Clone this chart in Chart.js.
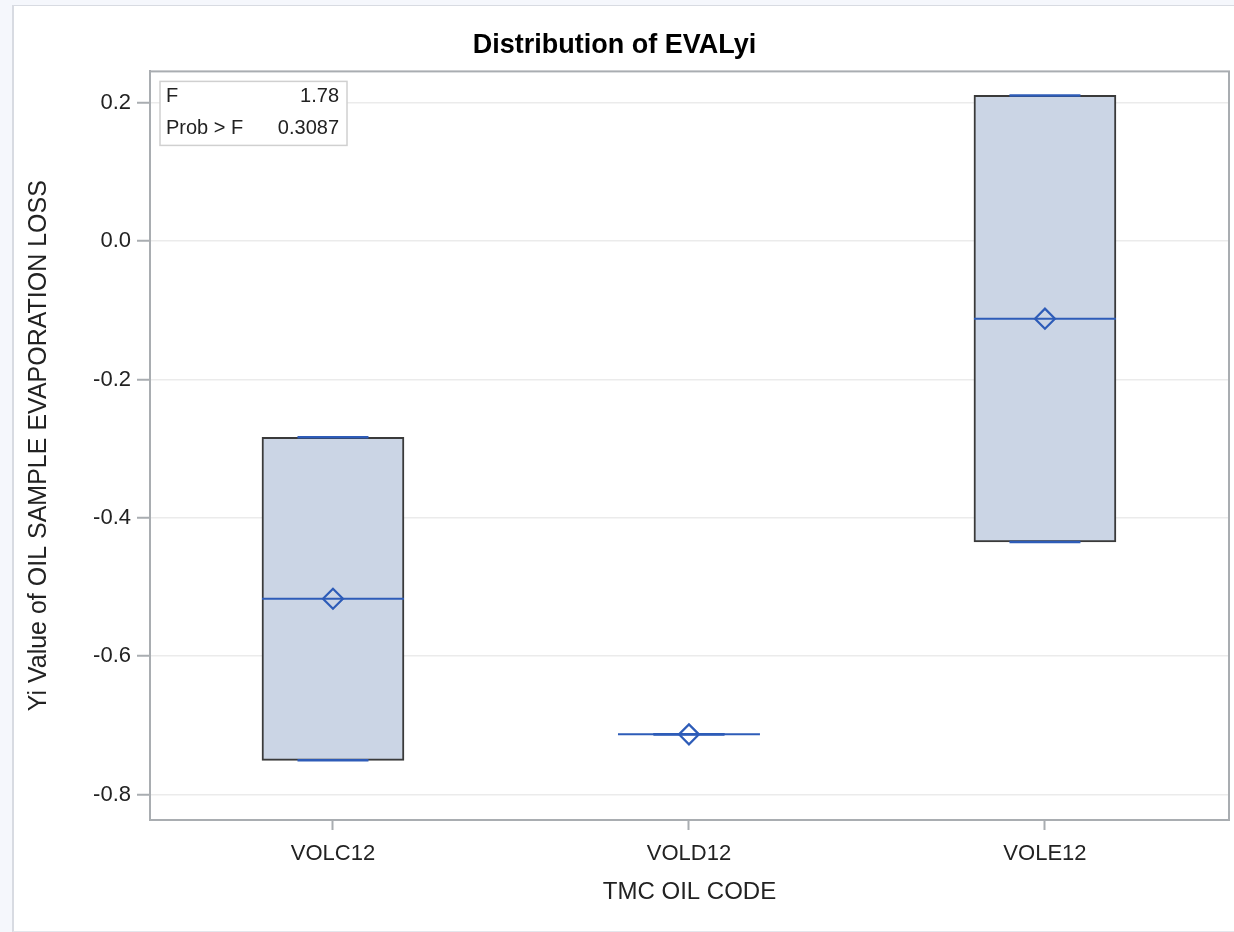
<!DOCTYPE html>
<html>
<head>
<meta charset="utf-8">
<script src="https://cdn.jsdelivr.net/npm/chart.js@4/dist/chart.umd.min.js"></script>
<style>
  html, body { margin: 0; padding: 0; background: #f5f7fc; overflow: hidden; }
  #panel {
    position: absolute; left: 12px; top: 5px; width: 1230px; height: 925px;
    background: #fff; border-left: 2px solid #d8dbe2; border-top: 1px solid #d8dbe2;
    border-bottom: 1px solid #e4e6ec;
  }
  #chartBox { position: absolute; left: 0; top: 0; width: 1234px; height: 932px; }
</style>
</head>
<body>
<div id="panel"></div>
<div id="chartBox"><canvas id="boxChart" width="1234" height="932"></canvas></div>
<script>
// data
const categories = ["VOLC12", "VOLD12", "VOLE12"];
const q1Values = [-0.7505, -0.713, -0.4347];
const q3Values = [-0.2835, -0.713, 0.2108];
const medianValues = [-0.517, -0.713, -0.112];
const meanValues = [-0.517, -0.713, -0.112];
const minValues = [-0.7505, -0.713, -0.4347];
const maxValues = [-0.2835, -0.713, 0.2108];
const yTicks = [-0.8, -0.6, -0.4, -0.2, 0.0, 0.2];
const statLabels = ["F", "Prob > F"];
const statValues = ["1.78", "0.3087"];

const BLUE = "#2e5cb8";
const FONT = "'Liberation Sans', Arial, sans-serif";

// category positions on a linear x scale (1, 2, 3)
const xPos = categories.map((c, i) => i + 1);
const boxHalf = 0.1994;
const capHalf = 0.0997;

function segment(x, half, y) {
  return [{ x: x - half, y: y }, { x: x + half, y: y }];
}

const datasets = [];

// mean diamonds (on top)
datasets.push({
  type: "scatter",
  data: xPos.map((x, i) => ({ x: x, y: meanValues[i] })),
  pointStyle: "rectRot",
  pointRadius: 10,
  pointBorderWidth: 2.2,
  pointBorderColor: BLUE,
  pointBackgroundColor: "rgba(0,0,0,0)",
  order: 0
});

// medians and min/max caps
xPos.forEach((x, i) => {
  datasets.push({
    type: "scatter", showLine: true, data: segment(x, boxHalf, medianValues[i]),
    borderColor: BLUE, borderWidth: 2, pointRadius: 0, order: 1
  });
  datasets.push({
    type: "scatter", showLine: true, data: segment(x, capHalf, minValues[i]),
    borderColor: BLUE, borderWidth: 2.5, pointRadius: 0, order: 1
  });
  datasets.push({
    type: "scatter", showLine: true, data: segment(x, capHalf, maxValues[i]),
    borderColor: BLUE, borderWidth: 2.5, pointRadius: 0, order: 1
  });
});

// boxes as floating bars
datasets.push({
  type: "bar",
  data: xPos.map((x, i) => ({ x: x, y: [q1Values[i], q3Values[i]] })),
  backgroundColor: "#cbd5e5",
  borderColor: "#3a3a3a",
  borderWidth: 2,
  borderSkipped: false,
  barThickness: 142,
  order: 2
});

// plot frame + F statistic inset
const framePlugin = {
  id: "framePlugin",
  afterDraw(chart) {
    const { ctx, chartArea: a } = chart;
    ctx.save();
    ctx.strokeStyle = "#a9adb1";
    ctx.lineWidth = 2;
    ctx.strokeRect(a.left, a.top, a.right - a.left, a.bottom - a.top);

    const bx = a.left + 10, by = a.top + 10, bw = 187, bh = 64;
    ctx.fillStyle = "#fff";
    ctx.fillRect(bx, by, bw, bh);
    ctx.strokeStyle = "#d0d0d0";
    ctx.lineWidth = 1.5;
    ctx.strokeRect(bx, by, bw, bh);
    ctx.fillStyle = "#222";
    ctx.font = "20px " + FONT;
    ctx.textBaseline = "middle";
    statLabels.forEach((lab, i) => {
      const ty = by + 15 + i * 32;
      ctx.textAlign = "left";
      ctx.fillText(lab, bx + 6, ty);
      ctx.textAlign = "right";
      ctx.fillText(statValues[i], bx + bw - 8, ty);
    });
    ctx.restore();
  }
};

new Chart(document.getElementById("boxChart"), {
  data: { datasets: datasets },
  plugins: [framePlugin],
  options: {
    responsive: false,
    animation: false,
    layout: { autoPadding: false, padding: { left: 0, right: 5, top: 0, bottom: 0 } },
    plugins: {
      legend: { display: false },
      tooltip: { enabled: false },
      title: {
        display: true,
        text: "Distribution of EVALyi",
        color: "#000",
        font: { family: FONT, size: 27, weight: "bold" },
        padding: { top: 29, bottom: 10 }
      }
    },
    scales: {
      x: {
        type: "linear",
        offset: false,
        min: 0.486,
        max: 3.517,
        afterBuildTicks: (s) => { s.ticks = xPos.map((v) => ({ value: v })); },
        afterFit: (s) => { s.height = 112; s.paddingLeft = 0; s.paddingRight = 0; },
        ticks: {
          callback: (v) => categories[v - 1],
          color: "#222",
          font: { family: FONT, size: 22 },
          padding: 11,
          maxRotation: 0
        },
        grid: { offset: false, drawOnChartArea: false, tickLength: 10, tickColor: "#a9adb1", tickWidth: 2 },
        border: { color: "#a9adb1", width: 2 },
        title: {
          display: true,
          text: "TMC OIL CODE",
          color: "#222",
          font: { family: FONT, size: 24 },
          padding: { top: 0, bottom: 25 }
        }
      },
      y: {
        type: "linear",
        min: -0.8368,
        max: 0.2455,
        afterBuildTicks: (s) => { s.ticks = yTicks.map((v) => ({ value: v })); },
        afterFit: (s) => { s.width = 150; s.paddingTop = 0; s.paddingBottom = 0; },
        ticks: {
          callback: (v) => v.toFixed(1),
          color: "#222",
          font: { family: FONT, size: 22 },
          padding: 6
        },
        grid: { color: "#ebebeb", lineWidth: 1.5, tickLength: 13, tickColor: "#a9adb1", tickWidth: 2 },
        border: { color: "#a9adb1", width: 2 },
        title: {
          display: true,
          text: "Yi Value of OIL SAMPLE EVAPORATION LOSS",
          color: "#222",
          font: { family: FONT, size: 25 },
          padding: { top: 24, bottom: 0 }
        }
      }
    }
  }
});
</script>
</body>
</html>
